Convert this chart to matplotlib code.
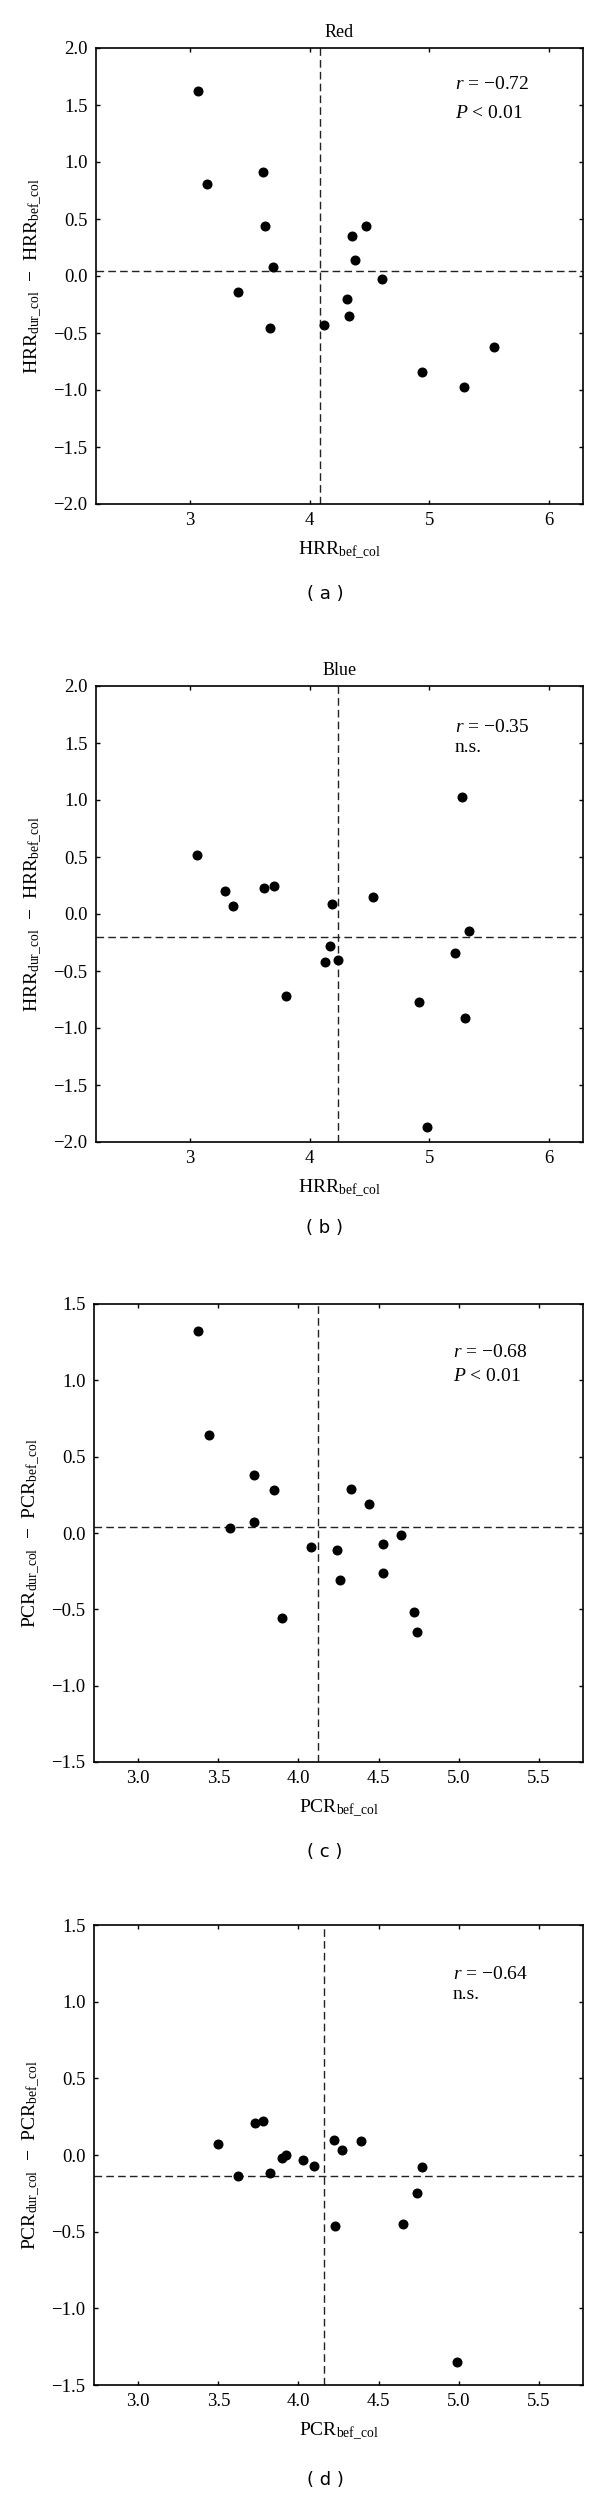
import matplotlib
matplotlib.use("Agg")
import matplotlib.pyplot as plt

# ---- data -------------------------------------------------------------
red_x = [3.07, 3.14, 3.61, 3.63, 3.69, 3.40, 3.67, 4.12, 4.35, 4.47,
         4.38, 4.60, 4.31, 4.33, 4.94, 5.29, 5.54]
red_y = [1.62, 0.81, 0.91, 0.44, 0.08, -0.14, -0.46, -0.43, 0.35, 0.44,
         0.14, -0.03, -0.20, -0.35, -0.84, -0.97, -0.62]

blue_x = [3.06, 3.29, 3.36, 3.62, 3.70, 3.80, 4.19, 4.53, 4.17, 4.13,
          4.24, 4.91, 4.98, 5.27, 5.33, 5.21, 5.30]
blue_y = [0.52, 0.20, 0.07, 0.23, 0.25, -0.72, 0.09, 0.15, -0.28, -0.42,
          -0.40, -0.77, -1.87, 1.03, -0.15, -0.34, -0.91]

pcr_c_x = [3.37, 3.44, 3.72, 3.85, 3.57, 3.72, 4.08, 3.90, 4.24, 4.26,
           4.33, 4.44, 4.53, 4.53, 4.64, 4.72, 4.74]
pcr_c_y = [1.32, 0.64, 0.38, 0.28, 0.03, 0.07, -0.09, -0.56, -0.11, -0.31,
           0.29, 0.19, -0.07, -0.26, -0.01, -0.52, -0.65]

pcr_d_x = [3.50, 3.62, 3.73, 3.78, 3.82, 3.90, 3.92, 4.03, 4.10, 4.22,
           4.27, 4.39, 4.23, 4.65, 4.74, 4.77, 4.99]
pcr_d_y = [0.07, -0.14, 0.21, 0.22, -0.12, -0.02, 0.00, -0.03, -0.07, 0.10,
           0.03, 0.09, -0.46, -0.45, -0.25, -0.08, -1.35]

mean_x = [4.09, 4.235, 4.12, 4.16]     # vertical dashed reference lines
mean_y = [0.045, -0.20, 0.04, -0.135]  # horizontal dashed reference lines

titles = ["Red", "Blue", "", ""]
stats = [("$r$ = −0.72", "$P$ < 0.01"), ("$r$ = −0.35", "n.s."),
         ("$r$ = −0.68", "$P$ < 0.01"), ("$r$ = −0.64", "n.s.")]
panel_tags = ["( a )", "( b )", "( c )", "( d )"]

hrr_yticks = [-2.0, -1.5, -1.0, -0.5, 0.0, 0.5, 1.0, 1.5, 2.0]
hrr_xticks = [3, 4, 5, 6]
pcr_yticks = [-1.5, -1.0, -0.5, 0.0, 0.5, 1.0, 1.5]
pcr_xticks = [3.0, 3.5, 4.0, 4.5, 5.0, 5.5]

# ---- style ---------------------------------------------------------------
plt.rcParams["font.family"] = ["Liberation Serif", "DejaVu Serif"]
plt.rcParams["mathtext.fontset"] = "custom"
plt.rcParams["mathtext.rm"] = "Liberation Serif"
plt.rcParams["mathtext.it"] = "Liberation Serif:italic"
plt.rcParams["axes.unicode_minus"] = True

W, H = 600, 2516
fig = plt.figure(figsize=(W / 100, H / 100), dpi=100)

# pixel boxes (left, top, right, bottom) of each plot area
boxes = [(96, 48, 583, 504), (96, 686, 583, 1142),
         (94, 1304, 583, 1762), (94, 1925, 583, 2385)]
tag_y = [594, 1228, 1852, 2480]
stat_pos = [(0.737, 0.92, 0.857), (0.737, 0.91, 0.866),
            (0.734, 0.895, 0.841), (0.734, 0.893, 0.848)]

series = [(red_x, red_y), (blue_x, blue_y), (pcr_c_x, pcr_c_y), (pcr_d_x, pcr_d_y)]

for i, (xs, ys) in enumerate(series):
    l, t, r, b = boxes[i]
    ax = fig.add_axes([l / W, 1 - b / H, (r - l) / W, (b - t) / H])
    ax.plot(xs, ys, "o", color="black", ms=6.2, zorder=3)
    ax.axvline(mean_x[i], color="#222222", lw=1.0, dashes=(5.5, 3))
    ax.axhline(mean_y[i], color="#222222", lw=1.0, dashes=(5.5, 3))

    if i < 2:
        ax.set_xlim(2.215, 6.283)
        ax.set_ylim(-2.0, 2.0)
        ax.set_xticks(hrr_xticks)
        ax.set_yticks(hrr_yticks)
        name = "HRR"
    else:
        ax.set_xlim(2.724, 5.776)
        ax.set_ylim(-1.5, 1.5)
        ax.set_xticks(pcr_xticks)
        ax.set_yticks(pcr_yticks)
        name = "PCR"
    ax.yaxis.set_major_formatter(plt.FuncFormatter(
        lambda v, p: f"{v:.1f}".replace("-", "−")))
    if i < 2:
        ax.xaxis.set_major_formatter(plt.FuncFormatter(lambda v, p: f"{v:.0f}"))
    else:
        ax.xaxis.set_major_formatter(plt.FuncFormatter(lambda v, p: f"{v:.1f}"))

    ax.set_xlabel(r"$\mathrm{%s_{bef\_col}}$" % name, fontsize=14, labelpad=8)
    ax.set_ylabel(r"$\mathrm{%s_{dur\_col}}\ \,-\ \,\mathrm{%s_{bef\_col}}$" % (name, name),
                  fontsize=14, labelpad=6)
    if titles[i]:
        ax.set_title(titles[i], fontsize=13, pad=8)

    ax.tick_params(direction="in", length=3, width=1, top=True, right=True,
                   labelsize=13.5, pad=6)
    for sp in ax.spines.values():
        sp.set_linewidth(1.2)

    sx, sy1, sy2 = stat_pos[i]
    ax.text(sx, sy1, stats[i][0], transform=ax.transAxes, fontsize=14, va="center")
    ax.text(sx, sy2, stats[i][1], transform=ax.transAxes, fontsize=14, va="center")

    fig.text(325 / W, 1 - tag_y[i] / H, panel_tags[i], family="DejaVu Sans",
             fontsize=13, ha="center", va="center")

fig.savefig("out.png", dpi=100)
